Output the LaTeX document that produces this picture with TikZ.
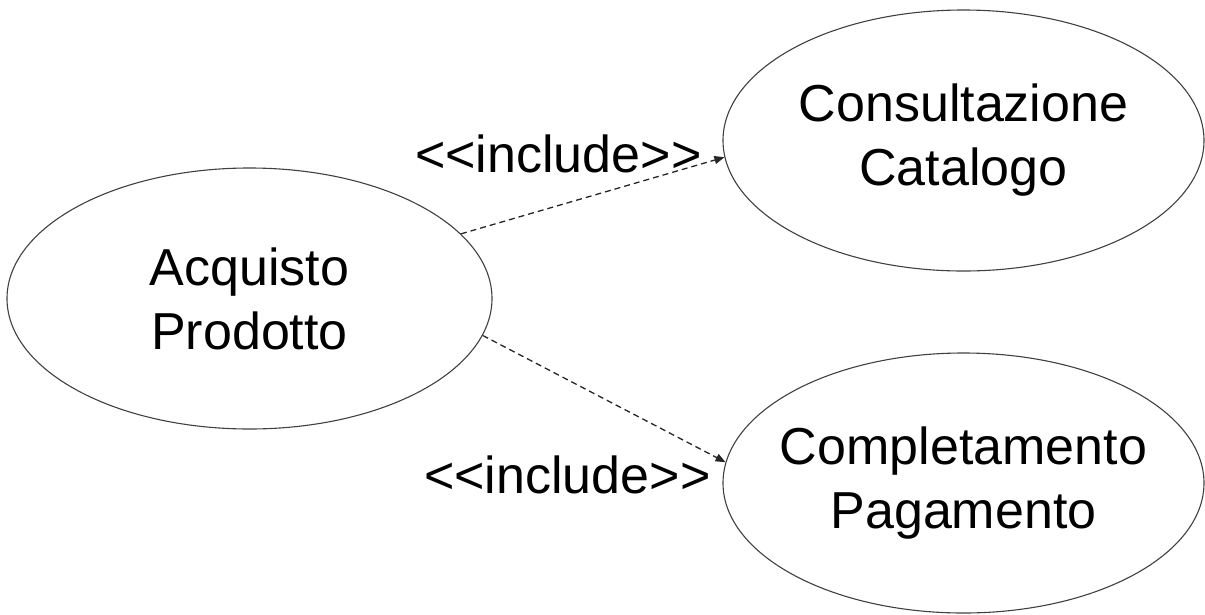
\documentclass[tikz,border=0pt]{standalone}
\usepackage{fontspec}
\setmainfont{Liberation Sans}[Ligatures=NoCommon]
\usetikzlibrary{shapes.geometric,arrows.meta}
\begin{document}
\begin{tikzpicture}[x=1pt,y=-1pt,
  usecase/.style={ellipse,draw=black!75,line width=1.1pt,inner ysep=0pt,inner xsep=-60pt,
    minimum width=485pt,minimum height=261pt,align=center,
    font=\fontsize{52}{64}\selectfont},
  inclabel/.style={inner sep=0pt,anchor=base west,font=\fontsize{52}{64}\selectfont},
  incl/.style={draw=black!85,line width=1.3pt,dash pattern=on 6pt off 4pt,
    -{Triangle[length=10pt,width=8pt]}}]
\useasboundingbox (0,0) rectangle (1205,614);
\node[usecase] (acq) at (249.5,298.5) {Acquisto\\Prodotto};
\node[usecase,minimum width=481pt] (cons) at (963.5,140.5) {Consultazione\\Catalogo};
\node[usecase,minimum width=481pt,minimum height=260pt] (comp) at (963.5,483) {Completamento\\Pagamento};
\node[inclabel] (l1) at (415,172) {{<}{<}include{>}{>}};
\node[inclabel] (l2) at (424,493) {{<}{<}include{>}{>}};
\draw[incl] (acq.17.3) -- (cons.184.2);
\draw[incl] (acq.351.4) -- (comp.175.7);
\end{tikzpicture}
\end{document}
